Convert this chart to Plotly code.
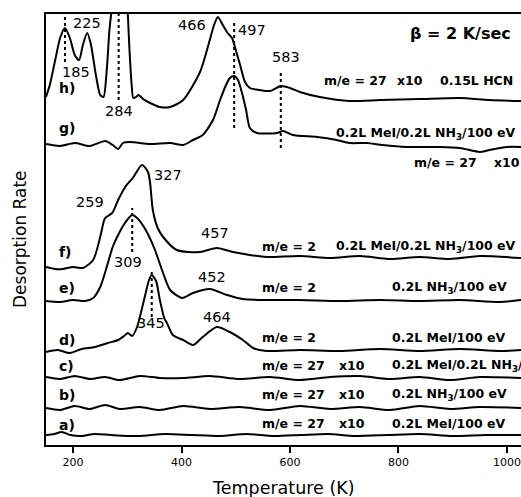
import plotly.graph_objects as go

# ---------------- data (temperature in K, desorption rate in arb. offset units) -------------
T_h = [150, 157, 167, 176, 185, 194, 203, 211, 218, 226, 233, 242, 250, 256, 262, 267, 272, 285, 298, 301,
       304, 308, 311, 316, 321, 329, 342, 360, 379, 403, 434, 452, 460, 467, 476, 485, 493, 500, 508, 517,
       526, 544, 563, 583, 600, 618, 655, 710, 766, 839, 913, 968, 1026]
R_h = [348, 360, 385, 407, 417, 407, 390, 385, 400, 412, 400, 370, 350, 348, 375, 415, 440, 510, 460, 430,
       395, 360, 347, 348, 350, 346, 342, 338, 338, 345, 373, 405, 420, 428, 420, 412, 407, 395, 380, 363,
       357, 355, 354, 359, 357, 353, 348, 344, 345, 346, 347, 345, 344]

T_g = [150, 176, 203, 231, 259, 273, 283, 292, 305, 342, 379, 403, 421, 439, 458, 471, 482, 489, 497, 504,
       511, 519, 526, 539, 576, 587, 605, 650, 686, 710, 742, 771, 815, 876, 913, 950, 968, 1000, 1026]
R_g = [301, 299, 302, 299, 304, 300, 296, 302, 303, 301, 302, 300, 305, 310, 325, 345, 360, 367, 369, 365,
       353, 335, 317, 312, 312, 314, 310, 308, 305, 302, 302, 300, 298, 298, 297, 293, 295, 298, 298]

T_f = [150, 167, 181, 200, 218, 237, 250, 259, 272, 283, 296, 310, 327, 338, 342, 347, 356, 366, 391, 434,
       465, 495, 526, 557, 618, 674, 729, 784, 839, 895, 950, 1026]
R_f = [178, 176, 176, 178, 177, 185, 208, 227, 232, 245, 258, 267, 280, 273, 262, 235, 217, 208, 195, 193,
       197, 193, 190, 188, 189, 187, 189, 186, 188, 186, 189, 187]

T_e = [150, 176, 200, 222, 237, 250, 262, 273, 283, 292, 301, 309, 318, 327, 336, 351, 364, 379, 401, 421,
       452, 484, 513, 557, 618, 692, 766, 839, 913, 987, 1026]
R_e = [144, 143, 145, 144, 147, 158, 178, 198, 210, 219, 226, 230, 227, 221, 213, 195, 175, 155, 147, 152,
       156, 150, 146, 145, 145, 144, 145, 144, 145, 143, 145]

T_d = [150, 172, 194, 216, 240, 264, 283, 294, 301, 309, 318, 325, 333, 340, 345, 353, 360, 368, 373, 384,
       403, 421, 439, 465, 489, 513, 532, 557, 618, 692, 766, 839, 913, 987, 1026]
R_d = [93, 95, 92, 96, 98, 102, 105, 109, 112, 109, 118, 132, 150, 165, 170, 164, 145, 127, 122, 110,
       105, 100, 108, 118, 113, 105, 97, 94, 95, 94, 96, 94, 96, 94, 95]

T_flat = [150, 176, 203, 231, 259, 286, 323, 360, 403, 452, 507, 563, 618, 674, 729, 784, 839, 895, 950, 1026]
R_c = [68, 66, 69, 66, 68, 65, 69, 67, 67, 69, 66, 68, 65, 68, 69, 66, 68, 65, 68, 67]
R_b = [37, 35, 39, 36, 40, 36, 38, 35, 39, 36, 38, 35, 39, 36, 38, 35, 39, 36, 38, 37]
T_a = [150, 165, 179, 195, 215, 240, 270, 320, 370, 420, 470, 520, 570, 620, 670, 720, 780, 840, 900, 960, 1026]
R_a = [10, 11, 13, 10, 9, 11, 10, 9, 11, 10, 9, 11, 9, 10, 11, 9, 10, 11, 9, 10, 10]

# peak markers: temperature, dotted-line bottom/top (rate units)
peak_T = [185, 284, 497, 583, 309, 345]
peak_lo = [383, 345, 317, 297, 193, 128]
peak_hi = [428, 431, 425, 375, 237, 175]

# peak value labels: text, T, rate
peak_lbl = ["466", "497", "583", "225", "185", "284", "259", "327", "309", "457", "452", "345", "464"]
peak_lbl_T = [419, 530, 592, 226, 205, 285, 231, 375, 301, 461, 456, 344, 465]
peak_lbl_R = [420, 415, 388, 422, 373, 334, 243, 270, 183, 212, 168, 122, 128]

# curve letters
curve_ids = ["h)", "g)", "f)", "e)", "d)", "c)", "b)", "a)"]
curve_id_R = [357, 317, 193, 157, 105, 79, 50, 20]

# right-hand annotations: text, T (left edge), rate
me_txt = ["m/e = 27", "m/e = 27", "m/e = 2", "m/e = 2", "m/e = 2", "m/e = 27", "m/e = 27", "m/e = 27"]
me_T = [659, 825, 544, 544, 544, 544, 544, 544]
me_R = [365, 283, 199, 158, 108, 80, 51, 22]
x10_T = [793, 972, None, None, None, 686, 686, 686]
cond_txt = ["0.15L HCN", "0.2L MeI/0.2L NH<sub>3</sub>/100 eV", "0.2L MeI/0.2L NH<sub>3</sub>/100 eV",
            "0.2L NH<sub>3</sub>/100 eV", "0.2L MeI/100 eV", "0.2L MeI/0.2L NH<sub>3</sub>/100 eV",
            "0.2L NH<sub>3</sub>/100 eV", "0.2L MeI/100 eV"]
cond_T = [873, None, None, 784, 784, 784, 784, 784]
cond_R = [365, 312, 199, 158, 108, 80, 51, 22]

x_ticks = [200, 400, 600, 800, 1000]

# ---------------- figure ----------------
FONT = "DejaVu Sans, Liberation Sans, sans-serif"
fig = go.Figure()
for T, R in [(T_h, R_h), (T_g, R_g), (T_f, R_f), (T_e, R_e), (T_d, R_d),
             (T_flat, R_c), (T_flat, R_b), (T_a, R_a)]:
    fig.add_trace(go.Scatter(x=T, y=R, mode="lines",
                             line=dict(color="black", width=2, shape="spline", smoothing=0.7),
                             hoverinfo="skip", showlegend=False))

for t, lo, hi in zip(peak_T, peak_lo, peak_hi):
    fig.add_shape(type="line", xref="x", yref="y", x0=t, x1=t, y0=lo, y1=hi,
                  line=dict(color="black", width=2, dash="dot"))

ann = []
for s, t, r in zip(peak_lbl, peak_lbl_T, peak_lbl_R):
    ann.append(dict(x=t, y=r, text=s, showarrow=False, xanchor="center", yanchor="middle",
                    font=dict(family=FONT, size=14.5, color="black")))

for s, r in zip(curve_ids, curve_id_R):
    ann.append(dict(x=170, y=r, text="<b>%s</b>" % s, showarrow=False, xanchor="left", yanchor="middle",
                    font=dict(family=FONT, size=14, color="black")))

bold = dict(family=FONT, size=12.5, color="black")
for i in range(len(me_txt)):
    ann.append(dict(x=me_T[i], y=me_R[i], text="<b>%s</b>" % me_txt[i], showarrow=False,
                    xanchor="left", yanchor="middle", font=bold))
    if x10_T[i] is not None:
        ann.append(dict(x=x10_T[i], y=me_R[i], text="<b>x10</b>", showarrow=False,
                        xanchor="left", yanchor="middle", font=bold))
for i in range(len(cond_txt)):
    if cond_T[i] is None:
        ann.append(dict(x=1020, y=cond_R[i], text="<b>%s</b>" % cond_txt[i], showarrow=False,
                        xanchor="right", yanchor="middle", font=bold))
    else:
        ann.append(dict(x=cond_T[i], y=cond_R[i], text="<b>%s</b>" % cond_txt[i], showarrow=False,
                        xanchor="left", yanchor="middle", font=bold))

ann.append(dict(x=1012, y=412, text="<b>β = 2 K/sec</b>", showarrow=False, xanchor="right",
                yanchor="middle", font=dict(family=FONT, size=16, color="black")))
ann.append(dict(xref="paper", yref="paper", x=0.499, y=-0.0998, text="Temperature (K)", showarrow=False,
                xanchor="center", yanchor="middle", font=dict(family=FONT, size=17.5, color="black")))
ann.append(dict(xref="paper", yref="paper", x=-0.0547, y=0.478, text="Desorption Rate", showarrow=False,
                textangle=-90, xanchor="center", yanchor="middle",
                font=dict(family=FONT, size=17, color="black")))

fig.update_layout(
    width=521, height=497,
    margin=dict(l=46, r=0, t=14, b=52),
    paper_bgcolor="white", plot_bgcolor="white",
    annotations=ann,
    xaxis=dict(range=[150, 1026], tickvals=x_ticks, ticks="outside", ticklen=6, tickwidth=2,
               tickcolor="black", showline=True, linewidth=2, linecolor="black", mirror=True,
               showgrid=False, zeroline=False, tickfont=dict(family=FONT, size=11, color="black")),
    yaxis=dict(range=[0, 431], showticklabels=False, ticks="", showline=True, linewidth=2,
               linecolor="black", mirror=False, showgrid=False, zeroline=False),
)

fig.write_html("out.html", config={"displayModeBar": False},
               post_script="document.body.style.margin='0';document.body.style.padding='0';")
